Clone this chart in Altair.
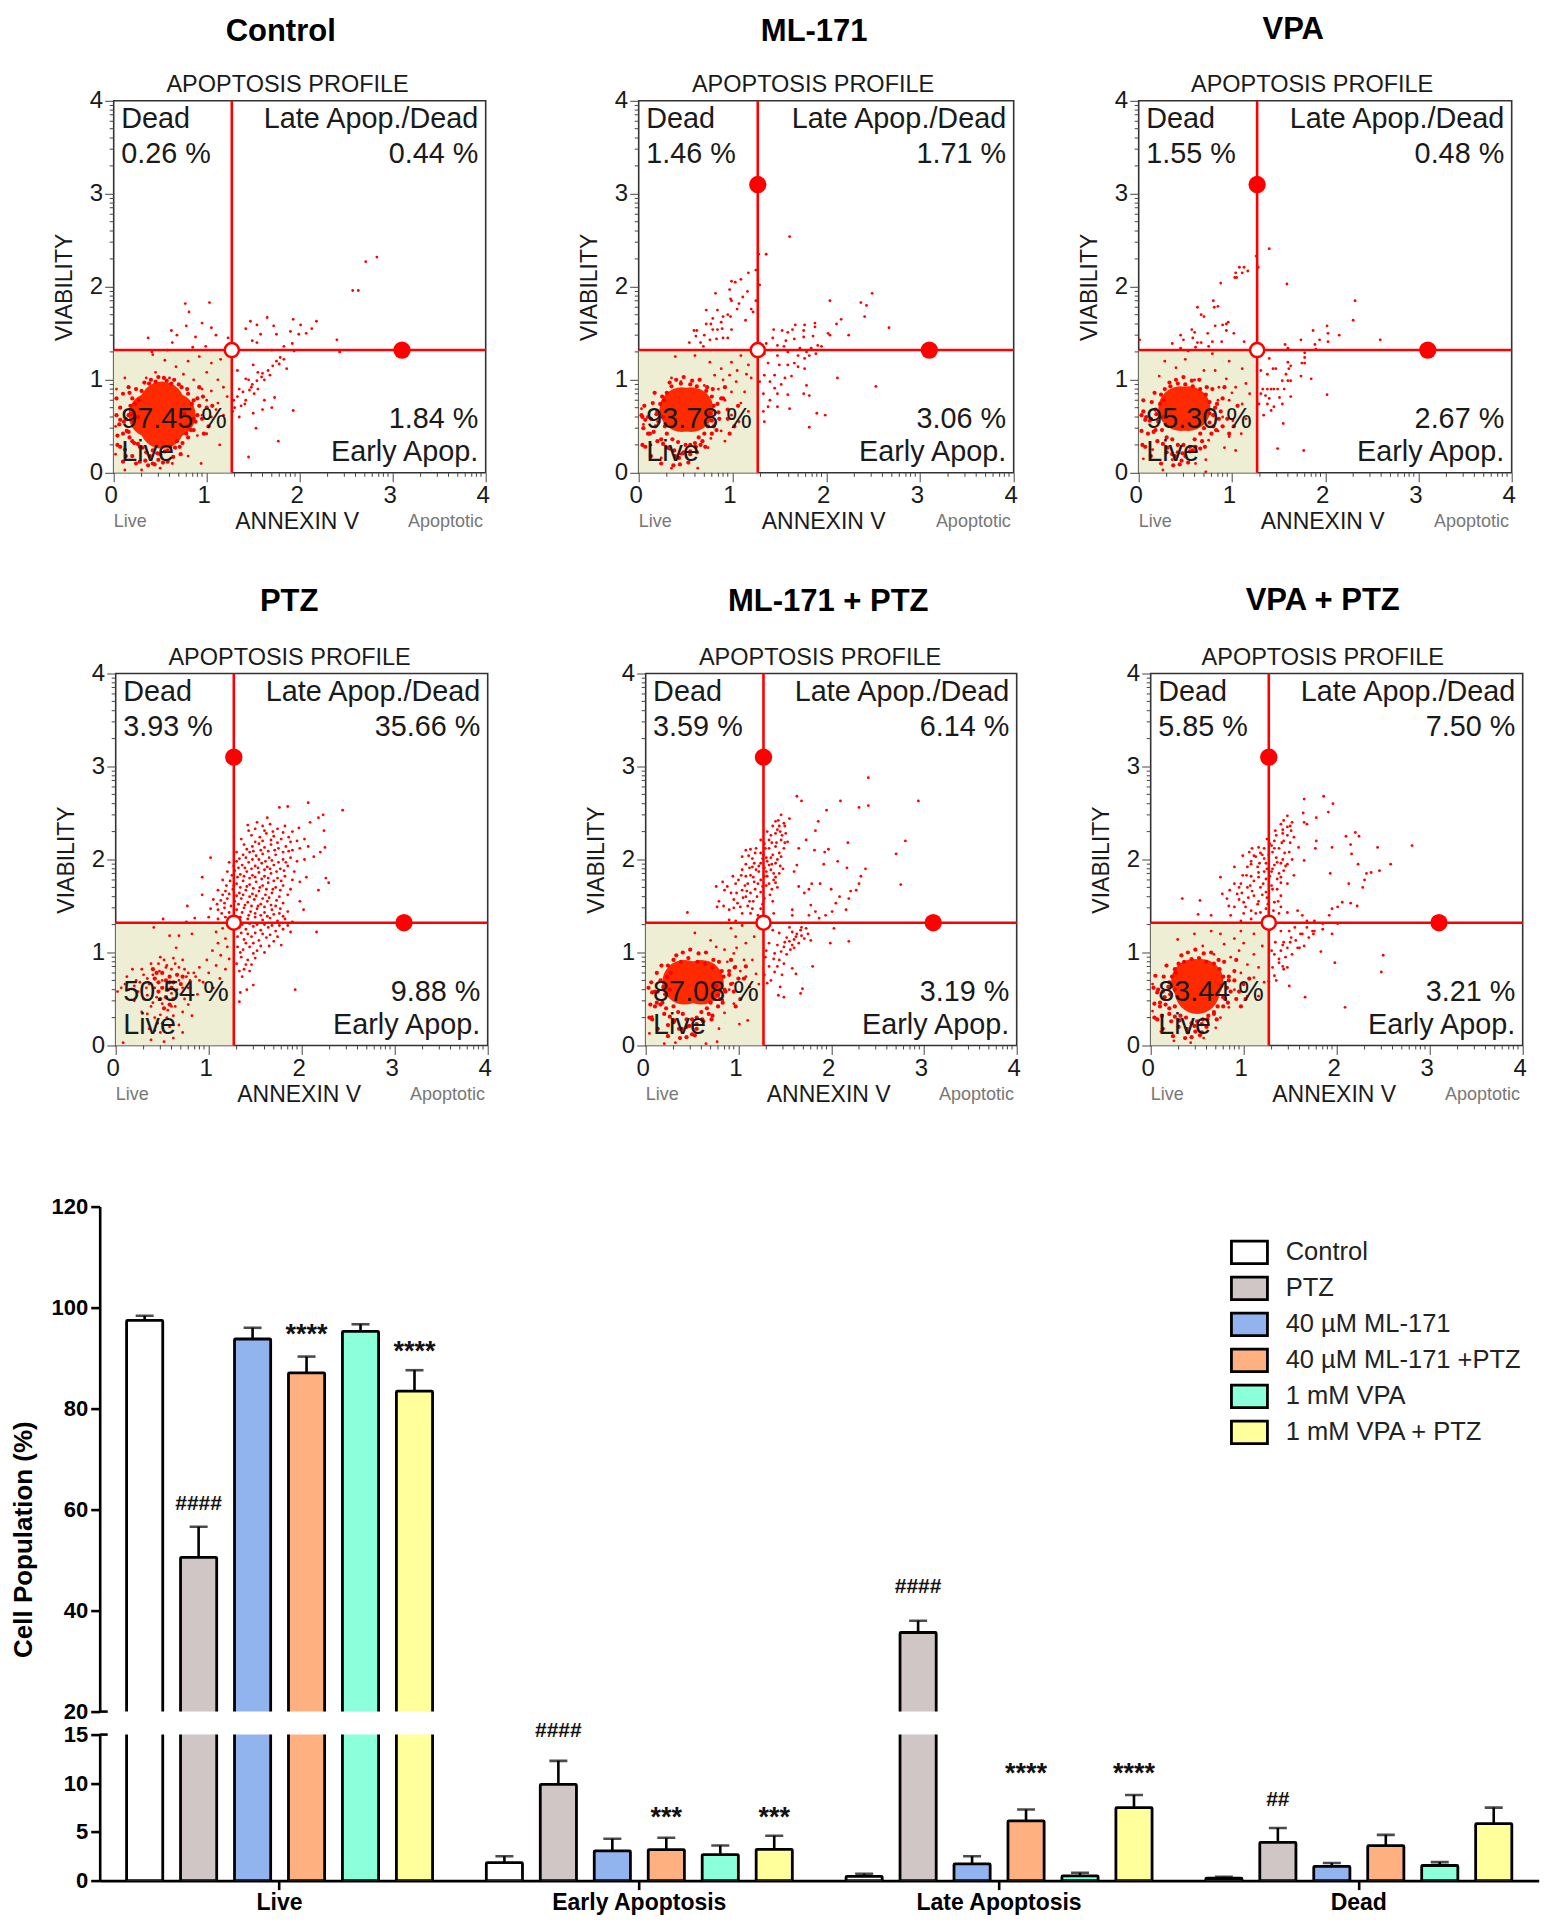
import altair as alt
import pandas as pd

FONT = "Liberation Sans"
RED = "#ff0000"

# ---------- flow-cytometry panels ----------
BLOB_EXTRA = [(.13,.58),(.19,.63),(.23,.74),(.17,.86),(.27,.78),(.33,.97),(.4,1.0),(.48,1.03),(.57,.99),(.65,1.0),(.73,.92),(.79,.9),(.84,.74),(.86,.58),(.9,.8),(.83,.46),(.78,.42),(.71,.28),(.68,.34),(.61,.28),(.55,.23),(.47,.21),(.39,.18),(.31,.27),(.26,.31),(.2,.34),(.16,.44),(.1,.42),(.07,.57),(.21,.55),(.26,.6),(.76,.64),(.8,.5),(.44,.09),(.53,.11),(.37,.08),(.24,.1),(.13,.18),(.07,.28),(.03,.62),(.04,.3),(.95,.58),(1.02,.5),(.97,.42),(1.06,.72),(.92,.92)]
CLUSTER_EXTRA = [(1.43,2.42),(1.5,2.36),(1.42,2.32),(1.35,2.26),(1.47,2.26),(1.28,2.17),(1.41,2.18),(1.5,2.18),(1.33,2.12),(1.44,2.07),(1.18,2.07),(1.27,2.05),(1.35,2.02),(1.11,2.04),(1.42,2.0),(1.17,1.96),(1.24,1.96),(1.33,1.94),(1.45,1.93),(1.08,1.95),(1.15,1.92),(1.22,1.87),(1.3,1.87),(1.38,1.85),(1.03,1.83),(1.16,1.81),(1.28,1.82),(1.4,1.81),(.97,1.74),(1.07,1.72),(1.21,1.74),(1.3,1.72),(1.4,1.75),(.85,1.67),(.98,1.64),(1.09,1.66),(1.24,1.65),(1.36,1.68),(.95,1.57),(1.05,1.59),(1.16,1.55),(1.26,1.52),(1.37,1.55),(.84,1.5),(1.02,1.49),(1.13,1.42),(1.24,1.47),(1.38,1.42),(1.55,1.27),(1.63,1.2),(1.5,1.11),(1.6,1.05),(1.42,1.08),(1.52,.98),(1.38,.93),(1.35,.7),(1.42,.85),(1.3,1.02),(1.75,1.2),(1.68,1.27)]
PTZ_EXTRA = [(1.52,2.4),(1.6,2.31),(1.69,2.3),(1.8,2.29),(1.43,2.31),(1.35,2.22),(1.5,2.19),(1.58,2.2),(1.67,2.21),(1.74,2.18),(1.88,2.19),(1.41,2.11),(1.48,2.09),(1.56,2.1),(1.64,2.09),(1.71,2.1),(1.8,2.08),(1.86,2.09),(1.33,2.01),(1.4,2.02),(1.47,2.0),(1.54,2.0),(1.61,1.98),(1.68,1.99),(1.75,1.97),(1.83,1.97),(1.27,1.93),(1.32,1.91),(1.39,1.91),(1.46,1.9),(1.53,1.91),(1.6,1.89),(1.66,1.9),(1.73,1.87),(1.81,1.88),(1.25,1.83),(1.31,1.81),(1.38,1.82),(1.44,1.8),(1.5,1.81),(1.57,1.79),(1.64,1.8),(1.7,1.77),(1.78,1.77),(1.19,1.72),(1.27,1.72),(1.34,1.7),(1.41,1.71),(1.48,1.69),(1.55,1.7),(1.62,1.68),(1.69,1.68),(1.77,1.67),(1.15,1.62),(1.22,1.63),(1.3,1.61),(1.37,1.62),(1.44,1.6),(1.51,1.61),(1.58,1.58),(1.65,1.59),(1.73,1.56),(1.09,1.52),(1.17,1.53),(1.24,1.5),(1.32,1.52),(1.39,1.51),(1.46,1.5),(1.53,1.5),(1.6,1.49),(1.67,1.51),(1.77,1.47),(1.14,1.42),(1.22,1.43),(1.36,1.43),(1.43,1.4),(1.5,1.42),(1.56,1.4),(1.63,1.39),(1.7,1.41),(1.8,1.39),(1.36,1.3),(1.44,1.31),(1.52,1.3),(1.6,1.3),(1.68,1.29),(1.76,1.29),(1.85,1.29),(1.35,1.21),(1.42,1.2),(1.5,1.21),(1.58,1.2),(1.66,1.19),(1.74,1.17),(1.4,1.1),(1.48,1.1),(1.56,1.07),(1.65,1.07),(1.34,1.0),(1.48,.99),(1.4,.87),(1.46,.87),(1.33,.8),
(.4,.76),(.47,.8),(.54,.84),(.6,.82),(.68,.84),(.76,.74),(.5,.7),(.36,.66),(.42,.62),(.66,.6),(.72,.62),(.6,.56),(.44,.52),(.5,.45),(.56,.38),(.48,.33),(.55,.3),(.64,.42),(.34,.54),(.26,.68),(.3,.76),(.2,.64),(.1,.66),(.68,.7),(.78,.62),(.84,.78),(.9,.7),(.52,.92),(.62,.94),(.4,.46),(.34,.34),(.45,.24),(.42,.16)]

CONTROL_CORE = [(.40,.62),(.64,.62),(.52,.74),(.52,.50)]
CONTROL_HALO = [(.16,.62),(.2,.8),(.3,.88),(.45,.98),(.62,.96),(.8,.85),(.92,.72),(.88,.55),(.8,.38),(.66,.27),(.5,.2),(.35,.22),(.22,.32),(.14,.45),(.07,.7),(.1,.85),(.28,.12),(.42,.1),(.58,.12),(.04,.4),(.72,.2),(.18,.72),(.24,.9),(.38,.96),(.54,1.02),(.7,.95),(.86,.78),(.9,.62),(.86,.46),(.74,.32),(.58,.24),(.42,.24),(.28,.28),(.17,.38),(.11,.55),(.06,.52),(.12,.25),(.2,.18),(.34,.13),(.48,.14),(.64,.17),(.03,.8),(.16,.92),(.1,.12),(1.0,.7),(.96,.82)]
CONTROL_DOTS = [(.37,1.45),(.77,1.82),(.81,1.73),(1.03,1.83),(.95,1.61),(.78,1.58),(1.05,1.56),(.62,1.53),(.68,1.48),(1.10,1.48),(.88,1.46),(.63,1.40),(.58,1.32),(1.23,1.45),(.85,1.35),(.99,1.36),(.41,1.30),(2.83,2.32),(2.71,2.27),(2.57,1.96),(2.63,1.96),(2.40,1.43),(2.43,1.30),(2.18,1.63),(1.93,1.65),(2.01,1.59),(2.13,1.55),(2.07,1.50),(1.90,1.52),(1.99,1.49),(1.65,1.67),(1.47,1.63),(1.54,1.59),(1.72,1.58),(1.42,1.55),(1.58,1.49),(1.75,1.49),(1.49,1.42),(1.54,1.40),(1.83,1.36),(1.92,1.39),(1.70,1.32),(1.94,1.31),(1.86,1.12),(1.83,1.22),(1.79,1.24),(1.75,1.20),(1.71,1.15),(1.66,1.10),(1.60,1.07),(1.59,1.03),(1.55,1.08),(1.50,1.16),(1.54,.99),(1.49,.95),(1.42,1.01),(1.33,1.10),(1.46,.89),(1.51,.85),(1.39,.87),(1.33,.82),(1.42,.78),(1.29,.78),(1.37,.72),(1.41,.74),(1.50,.64),(1.35,.60),(1.62,.78),(1.73,.81),(1.70,.70),(1.60,.68),(1.93,.67),(1.53,.48),(1.77,.34),(1.45,.17),(1.62,1.0),(1.68,1.05),(1.78,1.17),(1.45,1.0),(1.48,.92),(1.55,.9),(1.3,.7),(1.35,.9),(1.28,.66),
(.42,1.27),(.55,1.21),(.67,1.14),(.8,1.2),(.92,1.25),(1.05,1.18),(1.15,1.22),(.45,1.08),(.6,1.02),(.75,1.06),(.86,1.0),(1.0,1.08),(1.12,1.0),(.35,1.02),(.95,.9),(1.05,.88),(1.18,.92),(1.0,.78),(1.12,.75),(1.22,.82),(.95,.62),(1.05,.6),(1.0,.42),(.9,.4),(.8,.18),(.94,.1),(.63,.1),(.5,.05),(.3,.03),(.12,.03),(.02,.2),(.02,.5),(.03,.9),(.12,1.02),(1.14,.3),(1.1,.68),(1.18,.62)]

ML_CORE = [(.46,.68),(.56,.68)]
ML_HALO = [(.2,.66),(.25,.82),(.35,.93),(.55,.95),(.72,.88),(.8,.72),(.78,.56),(.7,.42),(.6,.32),(.5,.3),(.42,.33),(.3,.42),(.18,.5),(.1,.6),(.05,.48),(.55,.2),(.43,.16),(.33,.26),(.62,.22),(.88,.8),(.95,.68),(.15,.75),(.3,.86),(.45,.96),(.62,.93),(.78,.82),(.85,.65),(.74,.5),(.64,.38),(.55,.3),(.36,.36),(.24,.36),(.12,.42),(.06,.72),(.04,.6),(.48,.22),(.38,.24),(.66,.3),(.28,.5)]
ML_DOTS = [(1.61,2.54),(1.28,2.35),(1.36,2.35),(1.17,2.15),(1.25,2.18),(1.09,2.08),(.99,2.06),(1.03,2.05),(1.29,2.02),(.82,1.93),(.97,1.97),(1.16,1.95),(.98,1.87),(.99,1.85),(1.11,1.89),(1.25,1.85),(1.07,1.82),(1.05,1.76),(1.2,1.76),(1.22,1.73),(.72,1.75),(.84,1.75),(.95,1.70),(.98,1.68),(.9,1.68),(.79,1.66),(.88,1.62),(1.14,1.64),(.72,1.6),(.77,1.6),(.59,1.53),(.62,1.53),(.79,1.54),(.84,1.54),(.89,1.55),(.99,1.54),(.70,1.48),(.61,1.47),(.83,1.44),(.9,1.45),(.95,1.45),(.54,1.4),(.66,1.4),(.76,1.43),(.69,1.36),
(2.04,1.85),(2.49,1.93),(2.37,1.83),(2.43,1.8),(2.41,1.68),(2.16,1.65),(2.11,1.6),(2.67,1.56),(2.24,1.48),(2.02,1.5),(2.04,1.48),(1.88,1.61),(1.88,1.57),(1.77,1.59),(1.67,1.59),(1.64,1.54),(1.44,1.54),(1.53,1.53),(1.59,1.51),(1.76,1.53),(1.86,1.47),(1.76,1.46),(1.66,1.44),(1.57,1.42),(1.43,1.45),(1.36,1.39),(1.48,1.37),(1.55,1.36),(1.72,1.34),(1.91,1.37),(1.84,1.34),(1.79,1.3),(1.95,1.36),(1.41,1.32),(1.34,1.28),(1.48,1.26),(1.59,1.3),(1.7,1.26),(1.82,1.26),(1.89,1.28),(1.77,1.23),(1.66,1.18),(1.38,1.18),(1.5,1.16),(1.59,1.16),(1.7,1.14),(1.77,1.12),(1.63,1.04),(1.56,1.02),(1.45,1.05),(1.34,1.05),(1.29,.98),(1.4,.98),(1.52,.95),(2.12,1.02),(2.53,.93),(1.79,.94),(1.45,.91),(1.33,.85),(1.48,.85),(1.59,.84),(1.76,.85),(1.82,.83),(1.4,.78),(1.48,.71),(1.38,.71),(1.61,.69),(1.33,.66),(1.9,.64),(1.99,.62),(1.34,.55),(1.82,.49),
(.39,1.25),(.6,1.26),(.76,1.19),(.88,1.12),(.99,1.19),(1.09,1.26),(1.17,1.16),(.97,1.05),(.81,1.05),(1.04,.98),(1.2,1.02),(1.13,.87),(.99,.87),(.92,.78),(1.09,.75),(1.17,.66),(.99,.62),(.92,.34),(.77,.37),(.63,.05),(.35,.05),(.45,.2),(.24,.16),(.13,.3),(.05,.52),(.03,.69),(.74,.27),(.81,.52),(.35,1.02),(.45,.98),(.7,.94),(.9,1.0),(1.05,1.1),(1.15,1.06),(.85,.9),(1.07,.55),(.88,.45)]

VPA_CORE = [(.45,.69),(.53,.69)]
VPA_HALO = [(.18,.68),(.24,.84),(.34,.93),(.5,.95),(.66,.9),(.76,.76),(.8,.62),(.7,.48),(.6,.36),(.48,.3),(.36,.36),(.25,.46),(.12,.56),(.05,.66),(.03,.45),(.5,.18),(.42,.22),(.58,.24),(.3,.22),(.88,.66),(.9,.5),(.14,.76),(.28,.9),(.42,.96),(.58,.93),(.72,.84),(.82,.7),(.76,.54),(.66,.42),(.55,.28),(.42,.3),(.3,.38),(.18,.46),(.08,.6),(.05,.78),(.46,.13),(.36,.2),(.66,.26)]
VPA_DOTS = [(1.4,2.41),(1.26,2.33),(1.28,2.21),(1.08,2.21),(1.13,2.21),(1.17,2.17),(1.11,2.15),(1.04,2.15),(1.03,2.1),(1.05,2.1),(.88,2.04),(1.59,2.03),(.8,1.85),(.81,1.78),(.85,1.79),(.63,1.78),(.67,1.7),(.7,1.68),(.96,1.62),(.94,1.6),(.9,1.59),(.82,1.58),(.57,1.54),(.94,1.53),(.6,1.51),(.74,1.5),(1.02,1.5),(.45,1.48),(.48,1.43),(.58,1.45),(.79,1.41),(.89,1.41),(.36,1.39),(.63,1.4),(.67,1.4),(1.13,1.41),(.01,1.43),(.75,1.36),(.61,1.35),(.45,1.34),(.53,1.31),
(2.32,1.85),(2.3,1.64),(2.59,1.43),(2.02,1.58),(1.87,1.53),(2.03,1.5),(2.15,1.48),(1.94,1.43),(2.03,1.41),(1.74,1.43),(1.89,1.38),(1.57,1.38),(1.6,1.34),(1.9,1.33),(1.78,1.29),(1.78,1.24),(1.75,1.18),(1.78,1.18),(1.6,1.19),(1.63,1.15),(1.61,1.12),(1.4,1.23),(1.31,1.1),(1.44,1.12),(1.47,1.12),(1.38,1.06),(1.58,1.06),(1.74,1.04),(1.85,1.01),(1.54,.99),(1.6,.99),(1.63,.99),(1.33,.9),(1.38,.9),(1.42,.9),(1.45,.9),(1.49,.9),(1.56,.9),(1.31,.85),(1.36,.83),(1.63,.82),(2.02,.84),(1.4,.8),(1.51,.81),(1.29,.74),(1.38,.74),(1.45,.71),(1.54,.74),(1.34,.62),(1.42,.67),(1.55,.53),(1.49,.26),(1.77,.24),
(.28,1.2),(.4,1.13),(.6,1),(.79,1.28),(.97,1.2),(1.11,1.12),(.94,1.01),(1.04,.92),(1.15,.96),(1.19,.85),(.86,.92),(.22,1.04),(.97,.78),(1.11,.74),(.9,.6),(1.01,.56),(1.15,.58),(.97,.39),(1.04,.24),(.92,.27),(.72,.01),(.61,.1),(.36,.14),(.26,.03),(.72,.14),(.7,1.1),(.5,1.22),(.82,1.1),(1.0,.86),(.85,.78),(.75,.35),(.85,.45),(.15,.25),(.05,.15),(1.1,.42)]

PTZ_CORE = []
PTZ_HALO = [(.42,.72),(.5,.78),(.58,.74),(.66,.76),(.7,.66),(.6,.62),(.5,.62),(.54,.52),(.62,.5),(.52,.4),(.58,.68),(.46,.58),(.72,.74),(.4,.82),(.46,.68),(.54,.7),(.62,.68),(.56,.6),(.48,.5),(.58,.44),(.44,.78)]
PTZ_DOTS = [(2.44,2.53),(2.07,2.61),(1.85,2.57),(1.76,2.56),(2.23,2.48),(2.18,2.45),(1.63,2.45),(2.09,2.4),(2.24,2.31),(2.25,2.13),(2.2,2.08),(2.13,2.03),(2.26,1.8),(2.29,1.75),(2.18,1.67),(2.05,1.81),(2.02,1.46),(2.16,1.22),(1.93,.6),(1.02,2.02),(.93,1.81),(.77,1.5),(.93,1.62),(.51,1.36),(.41,1.27),(.85,1.37),(.76,1.33),
(1.42,2.37),(1.5,2.33),(1.58,2.36),(1.66,2.38),(1.74,2.33),(1.82,2.36),(1.9,2.3),(1.97,2.34),(1.46,2.26),(1.55,2.24),(1.62,2.28),(1.7,2.25),(1.78,2.22),(1.86,2.24),(1.95,2.2),(2.03,2.22),(1.38,2.16),(1.47,2.14),(1.54,2.17),(1.6,2.13),(1.67,2.16),(1.75,2.12),(1.83,2.14),(1.9,2.1),(1.98,2.12),(2.07,2.14),(1.3,2.08),(1.37,2.05),(1.44,2.08),(1.51,2.04),(1.58,2.06),(1.65,2.02),(1.72,2.05),(1.8,2.0),(1.88,2.02),(1.95,1.98),(2.03,2.0),(1.22,1.97),(1.3,1.98),(1.36,1.94),(1.43,1.97),(1.5,1.93),(1.57,1.96),(1.63,1.92),(1.7,1.94),(1.77,1.9),(1.85,1.93),(1.92,1.87),(1.2,1.87),(1.28,1.88),(1.34,1.84),(1.41,1.87),(1.47,1.83),(1.54,1.86),(1.6,1.82),(1.67,1.85),(1.74,1.8),(1.82,1.82),(1.9,1.78),(1.98,1.76),(1.15,1.78),(1.23,1.77),(1.3,1.74),(1.37,1.77),(1.44,1.73),(1.51,1.76),(1.58,1.72),(1.64,1.75),(1.72,1.7),(1.8,1.72),(1.88,1.68),(1.1,1.67),(1.18,1.66),(1.26,1.68),(1.33,1.64),(1.4,1.67),(1.47,1.63),(1.54,1.66),(1.61,1.62),(1.68,1.64),(1.76,1.6),(1.85,1.62),(1.05,1.57),(1.13,1.56),(1.2,1.58),(1.28,1.55),(1.35,1.58),(1.42,1.54),(1.49,1.57),(1.56,1.52),(1.63,1.55),(1.72,1.5),(1.8,1.53),(1.98,1.55),(1.02,1.47),(1.1,1.46),(1.17,1.48),(1.3,1.46),(1.38,1.48),(1.45,1.44),(1.52,1.47),(1.6,1.43),(1.68,1.46),(1.76,1.42),(1.85,1.44),(1.0,1.38),(1.1,1.36),(1.18,1.38),(1.34,1.38),(1.42,1.36),(1.5,1.38),(1.58,1.35),(1.66,1.37),(1.74,1.34),(1.82,1.36),(1.9,1.33),(1.33,1.27),(1.4,1.25),(1.48,1.28),(1.56,1.24),(1.64,1.27),(1.72,1.23),(1.8,1.25),(1.88,1.22),(1.31,1.17),(1.38,1.14),(1.46,1.17),(1.54,1.13),(1.62,1.16),(1.7,1.12),(1.78,1.08),(1.31,1.06),(1.37,1.03),(1.44,1.06),(1.52,1.02),(1.6,1.0),(1.35,.95),(1.42,.92),(1.5,.94),(1.38,.82),(1.44,.8),(1.36,.74),(1.3,.88),(1.41,.6),(1.34,.57),(1.33,.47),(1.48,.65),
(1.22,1.3),(1.15,1.26),(1.08,1.22),(1.18,1.15),(1.1,1.1),(1.2,1.06),(1.04,1.02),(1.13,.97),(1.22,.93),(.98,.92),(1.08,.86),(1.18,.82),(.9,.84),(1.0,.78),(1.12,.72),(.86,.74),(.94,.68),(1.05,.62),(.8,.62),(.88,.55),(.78,.78),(.72,.92),(.65,1.05),(.58,1.18),(.68,1.18),(.82,1.2),(.48,.95),(.38,.88),(.28,.82),(.18,.82),(.22,.7),(.12,.74),(.06,.62),(.02,.58),(.14,.6),(.24,.58),(.33,.62),(.3,.5),(.2,.48),(.38,.42),(.28,.36),(.42,.3),(.5,.24),(.58,.2),(.48,.14),(.36,.18),(.62,.32),(.72,.36),(.78,.44),(.82,.32),(.68,.22),(.62,.08),(.72,.14),(.52,.04),(.08,.03),(.38,.06),(.34,.72),(.46,.88),(.55,.86),(.64,.88),(.74,.82),(.8,.7),(.7,.55),(.74,.5),(.6,.42)]

ML_PTZ_CORE = [(.42,.68),(.6,.68)]
ML_PTZ_HALO = [(.16,.7),(.24,.86),(.38,.9),(.56,.9),(.72,.84),(.9,.76),(.85,.6),(.7,.46),(.6,.36),(.5,.28),(.4,.34),(.3,.42),(.18,.46),(.1,.58),(.05,.44),(.44,.2),(.55,.18),(.62,.26),(.3,.25),(.72,.32),(1.0,.72),(1.08,.85),(.12,.78),(.3,.92),(.46,.94),(.64,.88),(.82,.8),(.92,.66),(.78,.54),(.66,.4),(.55,.3),(.44,.28),(.35,.36),(.22,.4),(.12,.46),(.06,.68),(.36,.18),(.5,.12),(.24,.22),(.96,.84)]
ML_PTZ_DOTS = [(2.4,2.88),(2.4,2.58),(2.3,2.56),(2.1,2.63),(2.94,2.63),(1.63,2.68),(1.68,2.63),(1.95,2.53),(1.86,2.41),(1.83,2.31),(2.18,2.18),(2.8,2.2),(2.7,2.06),(1.97,2.11),(1.93,2.08),(1.82,2.1),(2.07,1.98),(1.92,1.95),(2.17,1.91),(2.37,1.9),(2.32,1.82),(2.75,1.73),(2.3,1.74),(2.27,1.67),(2.21,1.66),(2.19,1.58),(2.09,1.6),(2.05,1.53),(2.16,1.46),(2,1.68),(1.88,1.74),(1.79,1.74),(1.76,1.68),(1.65,1.71),(1.71,1.64),(1.6,1.87),(1.63,1.94),(1.73,2.21),(1.65,2.12),(2.01,1.44),(1.94,1.4),(1.83,1.44),(1.76,1.4),(1.78,1.51),(1.58,1.4),(1.58,1.46),(1.87,1.37),(2.03,1.26),(2.19,1.12),(1.99,1.1),(1.8,.85),
(1.46,2.48),(1.4,2.41),(1.49,2.39),(1.55,2.44),(1.44,2.36),(1.37,2.36),(1.51,2.28),(1.31,2.3),(1.4,2.28),(1.46,2.21),(1.33,2.21),(1.53,2.19),(1.24,2.21),(1.4,2.14),(1.49,2.12),(1.29,2.12),(1.19,2.12),(1.13,2.11),(1.08,2.1),(1.24,2.07),(1.37,2.05),(1.46,2.03),(1.15,2.01),(1.04,2.03),(1.31,1.98),(1.4,1.96),(1.26,2.01),(1.12,1.91),(1.19,1.89),(1.28,1.91),(1.35,1.89),(1.44,1.85),(1.04,1.89),(1.13,1.83),(1.31,1.82),(1.38,1.78),(1.24,1.78),(.94,1.82),(.83,1.76),(1,1.78),(1.1,1.74),(1.17,1.76),(1.26,1.71),(1.33,1.74),(.76,1.71),(.88,1.71),(.92,1.64),(1.04,1.67),(1.13,1.64),(1.2,1.6),(1.28,1.58),(.99,1.53),(1.12,1.55),(.79,1.55),(.77,1.49),(.9,1.46),(1.04,1.42),(1.15,1.47),(1.21,1.4),(.45,1.43),(.9,1.35),(.97,1.34),(1.04,1.29),(1.36,2.18),(1.45,2.3),(1.3,2.02),(1.22,1.93),(1.36,1.95),(1.48,1.9),(1.08,1.82),(1.18,1.68),(1.34,1.62),(1.42,1.7),(1.08,1.6),(.95,1.48),(1.1,1.5),
(1.37,1.24),(1.44,1.21),(1.58,1.22),(1.67,1.24),(1.73,1.26),(1.62,1.17),(1.71,1.15),(1.78,1.13),(1.55,1.12),(1.65,1.1),(1.49,1.06),(1.56,1.03),(1.46,1.01),(1.33,1.1),(1.39,.99),(1.29,.95),(1.44,.92),(1.49,.88),(1.33,.85),(1.58,.83),(1.39,.79),(1.28,.76),(1.47,.76),(1.62,.77),(1.31,.67),(1.45,.63),(1.69,.61),(1.67,.56),(1.43,.54),(1.49,.52),(1.6,1.14),(1.52,1.16),(1.68,1.18),(1.58,1.08),
(.53,1.21),(.7,1.13),(.76,1.06),(.92,1.26),(.97,1.17),(.85,1.03),(1.08,1.1),(1.17,1.17),(.95,.99),(1.06,.92),(1.15,.92),(.97,.85),(1.19,.77),(1.08,.74),(.94,.67),(1.12,.63),(.83,.49),(1.01,.23),(1.1,.27),(.79,.18),(.77,.04),(.65,.02),(.32,.03),(.2,.02),(.04,.13),(.07,.31),(1.22,.66),(1.02,.8),(.9,.6),(.95,.45),(.85,.35),(.88,.9),(.98,1.05)]

VPA_PTZ_CORE = [(.46,.69),(.54,.69),(.5,.58)]
VPA_PTZ_HALO = [(.2,.68),(.26,.82),(.36,.9),(.52,.94),(.68,.88),(.78,.74),(.82,.62),(.72,.42),(.62,.32),(.5,.26),(.38,.3),(.26,.42),(.15,.52),(.08,.6),(.04,.45),(.12,.32),(.3,.2),(.48,.15),(.6,.2),(.9,.7),(1.0,.66),(.92,.5),(.14,.74),(.3,.88),(.44,.93),(.6,.9),(.74,.82),(.84,.7),(.78,.52),(.68,.36),(.56,.28),(.44,.24),(.32,.32),(.2,.4),(.1,.46),(.05,.75),(.22,.26),(.4,.14),(.55,.14)]
VPA_PTZ_DOTS = [(1.86,2.68),(1.65,2.65),(1.96,2.6),(1.91,2.51),(1.64,2.5),(1.78,2.45),(1.65,2.4),(1.68,2.38),(2.2,2.29),(2.24,2.25),(2.1,2.25),(2.15,2.16),(2.44,2.13),(2.81,2.15),(1.95,2.13),(1.78,2.2),(1.77,2.12),(2.16,2.06),(2.58,1.95),(2.23,1.95),(2.46,1.88),(2.37,1.86),(2.32,1.85),(2.3,1.78),(1.93,1.85),(2.13,1.74),(2.28,1.7),(2.5,.97),(2.48,.79),(1.98,.89),(1.66,.52),(2.09,.41),(.34,1.58),(.53,1.56),(.51,1.41),(.65,1.4),
(2.22,1.5),(2.15,1.53),(2.06,1.54),(2.01,1.49),(1.95,1.47),(1.92,1.4),(1.85,1.31),(2.01,1.31),(1.68,1.34),(1.63,1.4),(1.58,1.45),(1.47,1.43),(1.76,1.23),(1.7,1.16),(1.61,1.2),(1.56,1.13),(1.65,1.07),(1.47,1.05),(1.58,1.05),(1.4,1.02),(1.45,.95),(1.33,.98),(1.38,.89),(1.31,.84),(1.43,.82),(1.47,.84),(1.33,.75),(1.27,.69),(1.49,.64),(1.83,1.01),(1.74,1.23),(1.85,1.25),(1.4,1.23),(1.49,1.23),(1.34,1.11),(1.43,1.11),(1.51,1.16),(1.76,1.34),(1.95,1.2),
(1.47,2.47),(1.4,2.38),(1.52,2.4),(1.47,2.35),(1.34,2.31),(1.42,2.28),(1.51,2.31),(1.33,2.2),(1.54,2.24),(1.43,2.2),(1.25,2.22),(1.59,2.13),(1.16,2.13),(1.09,2.12),(1.06,2.08),(1.38,2.12),(1.31,2.08),(1.49,2.08),(1.22,2.12),(.99,2.04),(1.13,2.03),(1.22,2.01),(1.36,1.97),(1.47,1.95),(1.65,1.99),(.9,1.92),(1.04,1.92),(1.31,1.9),(1.43,1.88),(1.54,1.83),(1.16,1.86),(.99,1.83),(.75,1.81),(1.11,1.77),(1.24,1.79),(1.36,1.79),(1.47,1.74),(.9,1.74),(1.04,1.7),(1.18,1.7),(1.31,1.68),(.77,1.63),(.93,1.63),(1.11,1.61),(1.25,1.59),(1.4,1.61),(.82,1.58),(1,1.54),(1.15,1.52),(1.33,1.54),(.9,1.49),(1.08,1.45),(1.18,1.43),(1.4,1.49),(.86,1.4),(.97,1.34),(1.08,1.36),(1.3,2.15),(1.2,2.05),(1.52,2.0),(1.08,1.98),(1.25,1.9),(1.4,1.96),(.95,1.7),(1.08,1.82),(1.2,1.62),(1.32,1.45),(1.0,1.42),
(.47,1.2),(.75,1.2),(.97,1.23),(1.11,1.2),(.65,1.23),(.29,1.14),(.56,1.07),(.79,1.09),(.95,1.02),(1.11,.98),(1.2,1.07),(.86,.95),(1.04,.87),(1.16,.84),(.97,.78),(1.11,.73),(1.22,.68),(.9,.6),(1.04,.53),(1.16,.53),(.84,.41),(.75,.3),(.7,.19),(.57,.08),(.43,.03),(.25,.05),(.11,.15),(.02,.37),(.02,.66),(1.0,1.1),(.9,1.15),(.68,.98)]

TITLES = ["Control", "ML-171", "VPA", "PTZ", "ML-171 + PTZ", "VPA + PTZ"]
DEAD = ["0.26 %", "1.46 %", "1.55 %", "3.93 %", "3.59 %", "5.85 %"]
LATE = ["0.44 %", "1.71 %", "0.48 %", "35.66 %", "6.14 %", "7.50 %"]
LIVE = ["97.45 %", "93.78 %", "95.30 %", "50.54 %", "87.08 %", "83.44 %"]
EARLY = ["1.84 %", "3.06 %", "2.67 %", "9.88 %", "3.19 %", "3.21 %"]
PROFILE_X = [1.87, 1.86, 1.86, 1.87, 1.88, 1.85]
TITLE_DX = [-19, -12, -32, -12.5, -3, -14]
TITLE_OFFSET = [25.3, 25.3, 26.5, 27.5, 27.5, 28.8]
PANEL_W = [372, 375, 373, 372, 371, 372]
CUT_X, CUT_Y, HANDLE = 1.27, 1.32, 3.1
MAJOR = [0, 1, 2, 3, 4]
MINOR = [.3,.48,.6,.7,.78,.85,.9,.95,1.3,1.48,1.6,1.7,1.78,1.85,1.9,1.95,2.3,2.48,2.6,2.7,2.78,2.85,2.9,2.95,3.3,3.48,3.6,3.7,3.78,3.85,3.9,3.95]

SX = alt.Scale(domain=[0, 4], nice=False, zero=False)
SY = alt.Scale(domain=[0, 4], nice=False, zero=False)
PH = 372


def frame(rows):
    return pd.DataFrame(rows, columns=["x", "y"])


def spacer(w):
    return alt.Chart(pd.DataFrame({"a": [0]})).mark_point(opacity=0).encode(x=alt.value(0), y=alt.value(0)).properties(width=w, height=1)


def panel(i, core, halo, dots, title_pad=13, show_v_handle=True):
    W = PANEL_W[i]
    ax_x = alt.Axis(values=MAJOR, format="d", tickSize=9, title="ANNEXIN V", grid=False,
                    domain=False, labelFont=FONT, labelFontSize=24, labelColor="#1a1a1a", titleFont=FONT,
                    titleFontSize=23, titleFontWeight="normal", titleColor="#1a1a1a", titlePadding=3,
                    titleX=W / 2 - 3, tickColor="#444", labelOverlap=False, labelPadding=2, labelFlush=False, labelOffset=-3)
    ax_y = alt.Axis(values=MAJOR, format="d", tickSize=9, title="VIABILITY", grid=False,
                    domain=False, labelFont=FONT, labelFontSize=24, labelColor="#1a1a1a", titleFont=FONT,
                    titleFontSize=23, titleFontWeight="normal", titleColor="#1a1a1a", titlePadding=title_pad,
                    tickColor="#444", labelOverlap=False, labelPadding=2, labelFlush=False)
    X = alt.X("x:Q", scale=SX, axis=ax_x)
    Y = alt.Y("y:Q", scale=SY, axis=ax_y)
    gate = alt.Chart(pd.DataFrame({"x": [0], "x2": [CUT_X], "y": [0], "y2": [CUT_Y]})).mark_rect(color="#eeeed5").encode(
        x=X, x2="x2:Q", y=Y, y2="y2:Q")
    layers = [gate]
    minor_x = pd.DataFrame({"x": MINOR})
    minor_y = pd.DataFrame({"y": MINOR})
    layers.append(alt.Chart(minor_x).mark_rule(color="#444", strokeWidth=1).encode(x=X, y=alt.value(PH), y2=alt.value(PH + 4)))
    layers.append(alt.Chart(minor_y).mark_rule(color="#444", strokeWidth=1).encode(y=Y, x=alt.value(-4), x2=alt.value(0)))
    if core:
        layers.append(alt.Chart(frame(core)).mark_circle(color="#ff2a00", size=2000, opacity=1).encode(x=X, y=Y))
    layers.append(alt.Chart(frame(halo)).mark_circle(color=RED, size=18, opacity=1).encode(x=X, y=Y))
    layers.append(alt.Chart(frame(dots)).mark_circle(color=RED, size=8, opacity=1).encode(x=X, y=Y))
    vline = pd.DataFrame({"x": [CUT_X, CUT_X], "y": [0, 4]})
    hline = pd.DataFrame({"x": [0, 4], "y": [CUT_Y, CUT_Y]})
    layers.append(alt.Chart(vline).mark_line(color=RED, strokeWidth=2.6).encode(x=X, y=Y))
    layers.append(alt.Chart(hline).mark_line(color=RED, strokeWidth=2.6).encode(x=X, y=Y))
    handles = [(HANDLE, CUT_Y)] + ([(CUT_X, HANDLE)] if show_v_handle else [])
    layers.append(alt.Chart(frame(handles)).mark_circle(color=RED, size=300, opacity=1).encode(x=X, y=Y))
    layers.append(alt.Chart(frame([(CUT_X, CUT_Y)])).mark_point(color=RED, fill="white", filled=True, size=200,
                  stroke=RED, strokeWidth=2.5, opacity=1).encode(x=X, y=Y))
    texts = pd.DataFrame({
        "x": [.08, .08, 3.92, 3.92, .08, .08, 3.92, 3.92],
        "y": [3.8, 3.43, 3.8, 3.43, .58, .22, .58, .22],
        "t": ["Dead", DEAD[i], "Late Apop./Dead", LATE[i], LIVE[i], "Live", EARLY[i], "Early Apop."],
        "a": ["l", "l", "r", "r", "l", "l", "r", "r"]})
    for side, align in (("l", "left"), ("r", "right")):
        layers.append(alt.Chart(texts[texts.a == side]).mark_text(font=FONT, fontSize=28.8, align=align, baseline="middle", color="#1a1a1a").encode(x=X, y=Y, text="t:N"))
    layers.append(alt.Chart(pd.DataFrame({"x": [PROFILE_X[i]], "y": [4.17], "t": ["APOPTOSIS PROFILE"]})).mark_text(
        font=FONT, fontSize=23.5, align="center", baseline="middle", color="#1a1a1a").encode(x=X, y=Y, text="t:N"))
    layers.append(alt.Chart(pd.DataFrame({"x": [0], "y": [-.527], "t": ["Live"]})).mark_text(
        font=FONT, fontSize=18, align="left", baseline="middle", color="#777").encode(x=X, y=Y, text="t:N"))
    layers.append(alt.Chart(pd.DataFrame({"x": [3.97], "y": [-.527], "t": ["Apoptotic"]})).mark_text(
        font=FONT, fontSize=18, align="right", baseline="middle", color="#777").encode(x=X, y=Y, text="t:N"))
    return alt.layer(*layers).properties(
        width=W, height=PH,
        view=alt.ViewBackground(stroke="#333", strokeWidth=1.6),
        title=alt.TitleParams(TITLES[i], font=FONT, fontSize=31, fontWeight="bold", color="black",
                              dx=TITLE_DX[i], offset=TITLE_OFFSET[i], anchor="middle"))


row1 = alt.concat(
    spacer(13.2),
    panel(0, CONTROL_CORE, CONTROL_HALO + BLOB_EXTRA, CONTROL_DOTS, show_v_handle=False),
    spacer(152.6),
    panel(1, ML_CORE, ML_HALO + BLOB_EXTRA, ML_DOTS),
    spacer(125),
    panel(2, VPA_CORE, VPA_HALO + BLOB_EXTRA, VPA_DOTS),
    columns=6, spacing=0, bounds="flush")
row2 = alt.concat(
    spacer(15.8),
    panel(3, PTZ_CORE, PTZ_HALO, PTZ_DOTS + PTZ_EXTRA),
    spacer(157.7),
    panel(4, ML_PTZ_CORE, ML_PTZ_HALO + BLOB_EXTRA, ML_PTZ_DOTS + CLUSTER_EXTRA),
    spacer(134),
    panel(5, VPA_PTZ_CORE, VPA_PTZ_HALO + BLOB_EXTRA, VPA_PTZ_DOTS + CLUSTER_EXTRA),
    columns=6, spacing=0, bounds="flush")

# ---------- bar chart ----------
GROUPS = ["Live", "Early Apoptosis", "Late Apoptosis", "Dead"]
CONDITIONS = ["Control", "PTZ", "40 µM ML-171", "40 µM ML-171 +PTZ", "1 mM VPA", "1 mM VPA + PTZ"]
COLORS = ["#ffffff", "#d0c6c6", "#91b4ef", "#ffb081", "#8cffdb", "#ffff9c"]
LIVE_MEAN = [97.45, 50.54, 93.78, 87.08, 95.30, 83.44]
LIVE_TOP = [98.4, 56.6, 96.0, 90.3, 96.7, 87.6]
EARLY_MEAN = [1.84, 9.88, 3.06, 3.19, 2.67, 3.21]
EARLY_TOP = [2.5, 12.3, 4.3, 4.4, 3.6, 4.6]
LATE_MEAN = [0.44, 35.66, 1.71, 6.14, 0.48, 7.50]
LATE_TOP = [0.7, 38.0, 2.5, 7.3, 0.8, 8.8]
DEAD_MEAN = [0.26, 3.93, 1.46, 3.59, 1.55, 5.85]
DEAD_TOP = [0.4, 5.4, 1.8, 4.7, 1.9, 7.5]
SIG_GROUP = ["Live", "Live", "Live", "Early Apoptosis", "Early Apoptosis", "Early Apoptosis", "Late Apoptosis", "Late Apoptosis", "Late Apoptosis", "Dead"]
SIG_COND = ["PTZ", "40 µM ML-171 +PTZ", "1 mM VPA + PTZ", "PTZ", "40 µM ML-171 +PTZ", "1 mM VPA + PTZ", "PTZ", "40 µM ML-171 +PTZ", "1 mM VPA + PTZ", "PTZ"]
SIG_TEXT = ["####", "****", "****", "####", "***", "***", "####", "****", "****", "##"]
SIG_Y = [61.2, 94.6, 91.3, 15.4, 6.4, 6.4, 44.6, 10.94, 10.94, 8.3]
SIG_SIZE = [21, 27, 27, 21, 27, 27, 21, 27, 27, 21]

rows = []
for g, means, tops in zip(GROUPS, [LIVE_MEAN, EARLY_MEAN, LATE_MEAN, DEAD_MEAN], [LIVE_TOP, EARLY_TOP, LATE_TOP, DEAD_TOP]):
    for c, m, t in zip(CONDITIONS, means, tops):
        rows.append({"group": g, "cond": c, "mean": m, "top": t, "base": 0})
bars = pd.DataFrame(rows)
sig = pd.DataFrame({"group": SIG_GROUP, "cond": SIG_COND, "text": SIG_TEXT, "y": SIG_Y, "fs": SIG_SIZE})

BW = 1439
XS = alt.Scale(domain=GROUPS, paddingInner=0, paddingOuter=0)
XO = alt.XOffset("cond:N", sort=CONDITIONS, scale=alt.Scale(domain=CONDITIONS, paddingInner=.33, paddingOuter=.498))
AXKW = dict(domainWidth=2.6, domainColor="black", tickWidth=2.6, tickColor="black", tickSize=9, labelFont=FONT,
            labelFontWeight="bold", labelFontSize=22, labelColor="black", grid=False, labelPadding=3)


def bar_layers(d, s, y_scale, y_axis, x_axis, legend, tick_value):
    X = alt.X("group:N", sort=GROUPS, scale=XS, axis=x_axis)
    Y = lambda f: alt.Y(f, scale=y_scale, axis=y_axis)
    fill = alt.Fill("cond:N", sort=CONDITIONS, scale=alt.Scale(domain=CONDITIONS, range=COLORS), legend=legend)
    b = alt.Chart(d).mark_bar(stroke="black", strokeWidth=2.8, clip=True, cornerRadius=1).encode(
        x=X, xOffset=XO, y=Y("mean:Q"), y2="base:Q", fill=fill)
    rule = alt.Chart(d).mark_rule(color="black", strokeWidth=2.6, clip=True).encode(
        x=X, xOffset=XO, y=Y("mean:Q"), y2="top:Q")
    cap = alt.Chart(d).mark_tick(color="black", thickness=2.6, size=18, orient="horizontal", clip=True).encode(
        x=X, xOffset=XO, y=Y("top:Q"))
    t = alt.Chart(s).mark_text(font=FONT, fontWeight="bold", color="#111", align="center", baseline="middle").encode(
        x=X, xOffset=XO, y=Y("y:Q"), text="text:N", size=alt.Size("fs:Q", scale=None, legend=None))
    nub = alt.Chart(pd.DataFrame({"y": [tick_value]})).mark_rule(color="black", strokeWidth=2.6).encode(
        x=alt.value(0), x2=alt.value(8), y=Y("y:Q"))
    return [rule, cap, b, t, nub]


low_all = bars.copy()
low_all["top"] = low_all["top"].where(low_all["top"] <= 15, low_all["mean"])
Y_UP = alt.Scale(domain=[20, 120], nice=False, zero=False)
Y_LOW = alt.Scale(domain=[0, 15], nice=False, zero=False)
AX_UP = alt.Axis(values=[20, 40, 60, 80, 100, 120], title="Cell Population (%)", titleFont=FONT, titleFontSize=26,
                 titleFontWeight="bold", titleColor="black", titleX=-62.7, titleY=332.5, **AXKW)
AX_LOW = alt.Axis(values=[0, 5, 10, 15], title=None, **AXKW)
AX_X = alt.Axis(title=None, labelAngle=0, domainWidth=2.6, domainColor="black", tickWidth=2.6, tickColor="black", tickSize=9,
                labelFont=FONT, labelFontWeight="bold", labelFontSize=23, labelColor="black", labelPadding=1.5, grid=False)
upper = alt.layer(*bar_layers(
    bars[bars["mean"] >= 20], sig[sig["y"] > 20], Y_UP, AX_UP, None,
    alt.Legend(orient="none", legendX=1137, legendY=33, title=None, symbolType="M-2,-1.25H2V1.25H-2Z", symbolSize=324,
               symbolStrokeColor="black", symbolStrokeWidth=2.8, labelFont=FONT, labelFontSize=25.5, labelColor="#222",
               labelOffset=23.5, rowPadding=1, symbolOpacity=1, labelLimit=400),
    20)).properties(width=BW, height=505)
tall = alt.Chart(bars[bars["mean"] > 15]).mark_bar(stroke="black", strokeWidth=2.8, clip=True).encode(
    x=alt.X("group:N", sort=GROUPS, scale=XS, axis=AX_X), xOffset=XO,
    y=alt.Y("mean:Q", scale=Y_LOW, axis=AX_LOW), y2="base:Q",
    fill=alt.Fill("cond:N", sort=CONDITIONS, scale=alt.Scale(domain=CONDITIONS, range=COLORS), legend=None))
lower = alt.layer(tall, *bar_layers(low_all[low_all["mean"] <= 15], sig[sig["y"] <= 20], Y_LOW, AX_LOW, AX_X, None, 15)).properties(width=BW, height=146)

bar_panel = alt.vconcat(upper, lower, spacing=23, bounds="flush")

top_rows = alt.vconcat(row1, row2, spacing=48.7)
chart = alt.vconcat(top_rows, bar_panel, spacing=87.8).properties(
    padding={"left": 2.7, "top": 4.8, "right": 5, "bottom": 5}, background="white"
).resolve_scale(fill="independent").configure_view(stroke=None)

chart.save("out.html", embed_options={"renderer": "svg", "actions": False})
